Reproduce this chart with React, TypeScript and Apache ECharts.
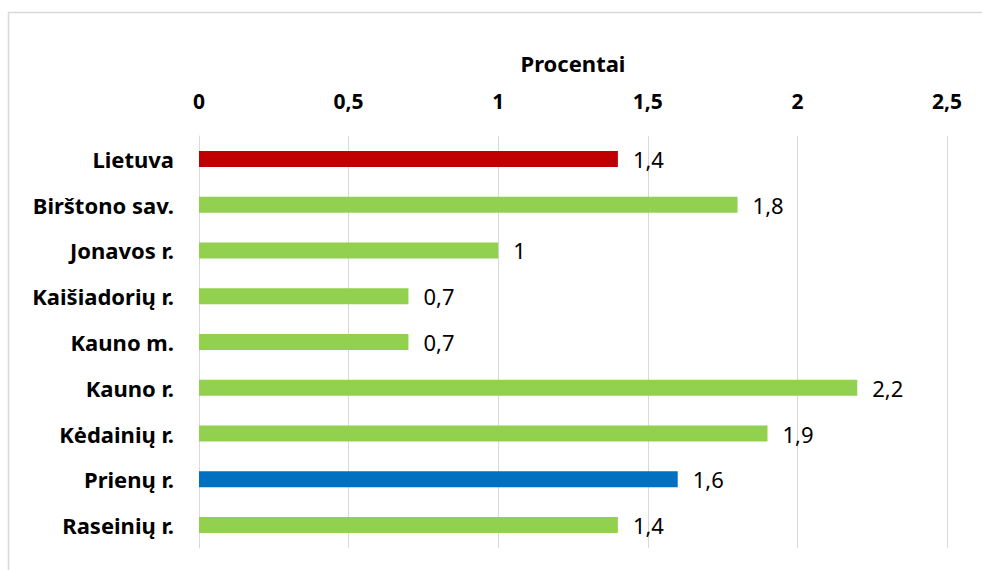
import React, { useEffect, useRef } from "react";
import * as echarts from "echarts";

const categories = [
  "Lietuva",
  "Birštono sav.",
  "Jonavos r.",
  "Kaišiadorių r.",
  "Kauno m.",
  "Kauno r.",
  "Kėdainių r.",
  "Prienų r.",
  "Raseinių r.",
];
const values = [1.4, 1.8, 1, 0.7, 0.7, 2.2, 1.9, 1.6, 1.4];
const barColors = ["#C00000", "#92D050", "#92D050", "#92D050", "#92D050", "#92D050", "#92D050", "#0070C0", "#92D050"];
const axisTitle = "Procentai";

const fmt = (v: number) => String(v).replace(".", ",");

export default function App() {
  const ref = useRef<HTMLDivElement>(null);
  useEffect(() => {
    if (!ref.current) return;
    const chart = echarts.init(ref.current, undefined, { renderer: "svg" });
    const font = "'Noto Sans', sans-serif";
    chart.setOption({
      animation: false,
      backgroundColor: "#ffffff",
      textStyle: { fontFamily: font },
      graphic: [
        {
          type: "rect",
          shape: { x: 8.5, y: 12.5, width: 980, height: 570 },
          style: { fill: "none", stroke: "#d9d9d9", lineWidth: 1.5 },
          silent: true,
        },
      ],
      grid: { left: 199, right: 35, top: 136, bottom: 22, containLabel: false },
      xAxis: {
        type: "value",
        position: "top",
        min: 0,
        max: 2.5,
        interval: 0.5,
        name: axisTitle,
        nameLocation: "middle",
        nameGap: 62,
        nameTextStyle: { fontFamily: font, fontWeight: "bold", fontSize: 22, color: "#000" },
        axisLine: { show: false },
        axisTick: { show: false },
        axisLabel: {
          formatter: (v: number) => fmt(v),
          fontFamily: font,
          fontWeight: "bold",
          fontSize: 21,
          color: "#000",
          margin: 25,
        },
        splitLine: { show: true, lineStyle: { color: "#d9d9d9", width: 1 } },
      },
      yAxis: {
        type: "category",
        inverse: true,
        data: categories,
        axisLine: { show: true, lineStyle: { color: "#d9d9d9", width: 1 } },
        axisTick: { show: false },
        axisLabel: {
          fontFamily: font,
          fontWeight: "bold",
          fontSize: 22,
          color: "#000",
          margin: 25,
        },
      },
      series: [
        {
          type: "bar",
          barWidth: 16,
          data: values.map((v, i) => ({ value: v, itemStyle: { color: barColors[i] } })),
          label: {
            show: true,
            position: "right",
            distance: 15,
            formatter: (p: any) => fmt(p.value),
            fontFamily: font,
            fontSize: 22,
            color: "#000",
          },
        },
      ],
    });
    return () => chart.dispose();
  }, []);
  return (
    <div
      ref={ref}
      style={{ position: "absolute", left: 0, top: 0, width: 982, height: 570 }}
    />
  );
}
